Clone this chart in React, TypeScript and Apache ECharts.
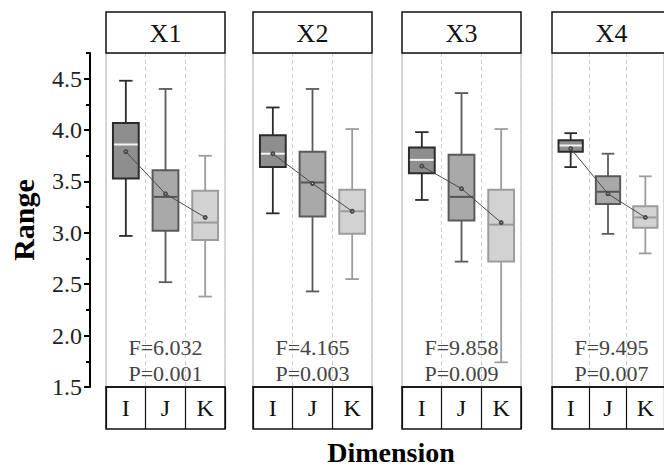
import React, { useEffect, useRef } from "react";
import * as echarts from "echarts";

// ---- data ----
const panels = ["X1", "X2", "X3", "X4"];
const categories = ["I", "J", "K"];
// each row: [low, Q1, median, Q3, high] for I, J, K
const boxX1 = [
  [2.97, 3.53, 3.86, 4.07, 4.48],
  [2.52, 3.02, 3.35, 3.61, 4.4],
  [2.38, 2.93, 3.1, 3.41, 3.75],
];
const boxX2 = [
  [3.19, 3.64, 3.77, 3.95, 4.22],
  [2.43, 3.16, 3.49, 3.79, 4.4],
  [2.55, 2.99, 3.21, 3.42, 4.01],
];
const boxX3 = [
  [3.32, 3.58, 3.71, 3.83, 3.98],
  [2.72, 3.12, 3.35, 3.76, 4.36],
  [1.74, 2.72, 3.08, 3.42, 4.01],
];
const boxX4 = [
  [3.64, 3.79, 3.85, 3.9, 3.97],
  [2.99, 3.28, 3.4, 3.55, 3.77],
  [2.8, 3.05, 3.15, 3.26, 3.55],
];
const meanX1 = [3.79, 3.38, 3.15];
const meanX2 = [3.77, 3.48, 3.21];
const meanX3 = [3.65, 3.43, 3.1];
const meanX4 = [3.82, 3.38, 3.15];
const fValues = ["6.032", "4.165", "9.858", "9.495"];
const pValues = ["0.001", "0.003", "0.009", "0.007"];
const yMajorTicks = [1.5, 2.0, 2.5, 3.0, 3.5, 4.0, 4.5];
const yMinorTicks = [1.75, 2.25, 2.75, 3.25, 3.75, 4.25, 4.75];
const Y_MIN = 1.5;
const Y_MAX = 4.75;

const boxes = [boxX1, boxX2, boxX3, boxX4];
const means = [meanX1, meanX2, meanX3, meanX4];

// ---- layout / style ----
const FONT = "'Liberation Serif', 'Times New Roman', serif";
const PANEL_LEFT = [106, 253, 402, 552];
const PANEL_W = 119;
const PLOT_TOP = 53;
const PLOT_BOTTOM = 387;
const HEADER_TOP = 12;
const CAT_BOX_H = 42;

const CAT_STYLE = [
  { fill: "#8e8e8e", stroke: "#2b2b2b", median: "#f4f4f4" },
  { fill: "#a9a9a9", stroke: "#5a5a5a", median: "#555555" },
  { fill: "#d2d2d2", stroke: "#9c9c9c", median: "#999999" },
];

export default function App() {
  const ref = useRef<HTMLDivElement>(null);

  useEffect(() => {
    if (!ref.current) return;
    const chart = echarts.init(ref.current, null, { renderer: "svg" });

    const grids = PANEL_LEFT.map((l) => ({
      left: l,
      top: PLOT_TOP,
      width: PANEL_W,
      height: PLOT_BOTTOM - PLOT_TOP,
      show: true,
      borderColor: "#b0b0b0",
      borderWidth: 1,
      backgroundColor: "transparent",
    }));

    const xAxes = panels.map((_, i) => ({
      type: "category",
      gridIndex: i,
      data: categories,
      boundaryGap: true,
      axisLine: { show: true, lineStyle: { color: "#111", width: 1.5 } },
      axisTick: {
        show: true,
        length: CAT_BOX_H,
        lineStyle: { color: "#111", width: 1.2 },
      },
      axisLabel: {
        show: true,
        fontFamily: FONT,
        fontSize: 24,
        color: "#111",
        margin: 9,
      },
      splitLine: {
        show: true,
        lineStyle: { color: "#cfcfcf", type: [4, 3], width: 1 },
      },
    }));

    const yAxes: any[] = panels.map((_, i) => ({
      type: "value",
      gridIndex: i,
      min: Y_MIN,
      max: Y_MAX,
      interval: 0.5,
      position: "left",
      offset: 16,
      show: i === 0,
      name: i === 0 ? "Range" : "",
      nameLocation: "middle",
      nameRotate: 90,
      nameGap: 52,
      nameTextStyle: {
        fontFamily: FONT,
        fontSize: 30,
        fontWeight: "bold",
        color: "#000",
      },
      axisLine: { show: i === 0, lineStyle: { color: "#000", width: 2 } },
      axisTick: {
        show: i === 0,
        customValues: yMajorTicks,
        length: 6,
        lineStyle: { color: "#000", width: 2 },
      },
      axisLabel: {
        show: i === 0,
        customValues: yMajorTicks,
        fontFamily: FONT,
        fontSize: 24,
        color: "#222",
        margin: 8,
        formatter: (v: number) => v.toFixed(1),
      },
      splitLine: { show: false },
    }));
    // minor ticks axis for first panel
    yAxes.push({
      type: "value",
      gridIndex: 0,
      min: Y_MIN,
      max: Y_MAX,
      interval: 0.25,
      position: "left",
      offset: 16,
      axisLine: { show: false },
      axisTick: {
        show: true,
        customValues: yMinorTicks,
        length: 4,
        lineStyle: { color: "#000", width: 2 },
      },
      axisLabel: { show: false },
      splitLine: { show: false },
    });

    const series: any[] = [];
    panels.forEach((_, i) => {
      const rows = boxes[i].map((b, c) => [c, ...b]);
      series.push({
        type: "custom",
        xAxisIndex: i,
        yAxisIndex: i,
        encode: { x: 0, y: [1, 2, 3, 4, 5] },
        data: rows,
        z: 2,
        renderItem: (params: any, api: any) => {
          const c = api.value(0);
          const low = api.coord([c, api.value(1)]);
          const q1 = api.coord([c, api.value(2)]);
          const med = api.coord([c, api.value(3)]);
          const q3 = api.coord([c, api.value(4)]);
          const high = api.coord([c, api.value(5)]);
          const bw = api.size([1, 0])[0] * 0.65;
          const cap = bw * 0.52;
          const cx = low[0];
          const st = CAT_STYLE[c];
          const wl = { stroke: st.stroke, lineWidth: 1.8 };
          return {
            type: "group",
            children: [
              { type: "line", shape: { x1: cx, y1: high[1], x2: cx, y2: q3[1] }, style: wl },
              { type: "line", shape: { x1: cx, y1: q1[1], x2: cx, y2: low[1] }, style: wl },
              { type: "line", shape: { x1: cx - cap / 2, y1: high[1], x2: cx + cap / 2, y2: high[1] }, style: wl },
              { type: "line", shape: { x1: cx - cap / 2, y1: low[1], x2: cx + cap / 2, y2: low[1] }, style: wl },
              {
                type: "rect",
                shape: { x: cx - bw / 2, y: q3[1], width: bw, height: q1[1] - q3[1] },
                style: { fill: st.fill, stroke: st.stroke, lineWidth: 2 },
              },
              {
                type: "line",
                shape: { x1: cx - bw / 2 + 1, y1: med[1], x2: cx + bw / 2 - 1, y2: med[1] },
                style: { stroke: st.median, lineWidth: 2 },
              },
            ],
          };
        },
      });
      series.push({
        type: "line",
        xAxisIndex: i,
        yAxisIndex: i,
        data: means[i],
        z: 5,
        symbol: "emptyCircle",
        symbolSize: 3,
        lineStyle: { color: "#4a4a4a", width: 1 },
        itemStyle: { color: "#4a4a4a", borderWidth: 1 },
      });
    });

    const graphics: any[] = [];
    PANEL_LEFT.forEach((l, i) => {
      graphics.push({
        type: "rect",
        shape: { x: l, y: HEADER_TOP, width: PANEL_W, height: PLOT_TOP - HEADER_TOP },
        style: { fill: "#fff", stroke: "#111", lineWidth: 1.5 },
        z: 10,
      });
      graphics.push({
        type: "text",
        x: l + PANEL_W / 2,
        y: (HEADER_TOP + PLOT_TOP) / 2 + 1,
        style: {
          text: panels[i],
          fontFamily: FONT,
          fontSize: 26,
          fill: "#111",
          textAlign: "center",
          textVerticalAlign: "middle",
        },
        z: 11,
      });
      graphics.push({
        type: "rect",
        shape: { x: l, y: PLOT_BOTTOM, width: PANEL_W, height: CAT_BOX_H },
        style: { fill: "none", stroke: "#111", lineWidth: 1.5 },
        z: 10,
      });
      graphics.push({
        type: "text",
        x: l + PANEL_W / 2,
        y: 347,
        style: {
          text: "F=" + fValues[i],
          fontFamily: FONT,
          fontSize: 22,
          fill: "#444",
          textAlign: "center",
          textVerticalAlign: "middle",
        },
        z: 11,
      });
      graphics.push({
        type: "text",
        x: l + PANEL_W / 2,
        y: 373,
        style: {
          text: "P=" + pValues[i],
          fontFamily: FONT,
          fontSize: 22,
          fill: "#444",
          textAlign: "center",
          textVerticalAlign: "middle",
        },
        z: 11,
      });
    });
    graphics.push({
      type: "text",
      x: 391,
      y: 452,
      style: {
        text: "Dimension",
        fontFamily: FONT,
        fontSize: 28,
        fontWeight: "bold",
        fill: "#000",
        textAlign: "center",
        textVerticalAlign: "middle",
      },
    });

    chart.setOption({
      animation: false,
      backgroundColor: "#fff",
      grid: grids,
      xAxis: xAxes,
      yAxis: yAxes,
      series,
      graphic: graphics,
    });

    return () => chart.dispose();
  }, []);

  return (
    <div
      ref={ref}
      style={{ position: "fixed", left: 0, top: 0, width: 664, height: 468 }}
    />
  );
}
